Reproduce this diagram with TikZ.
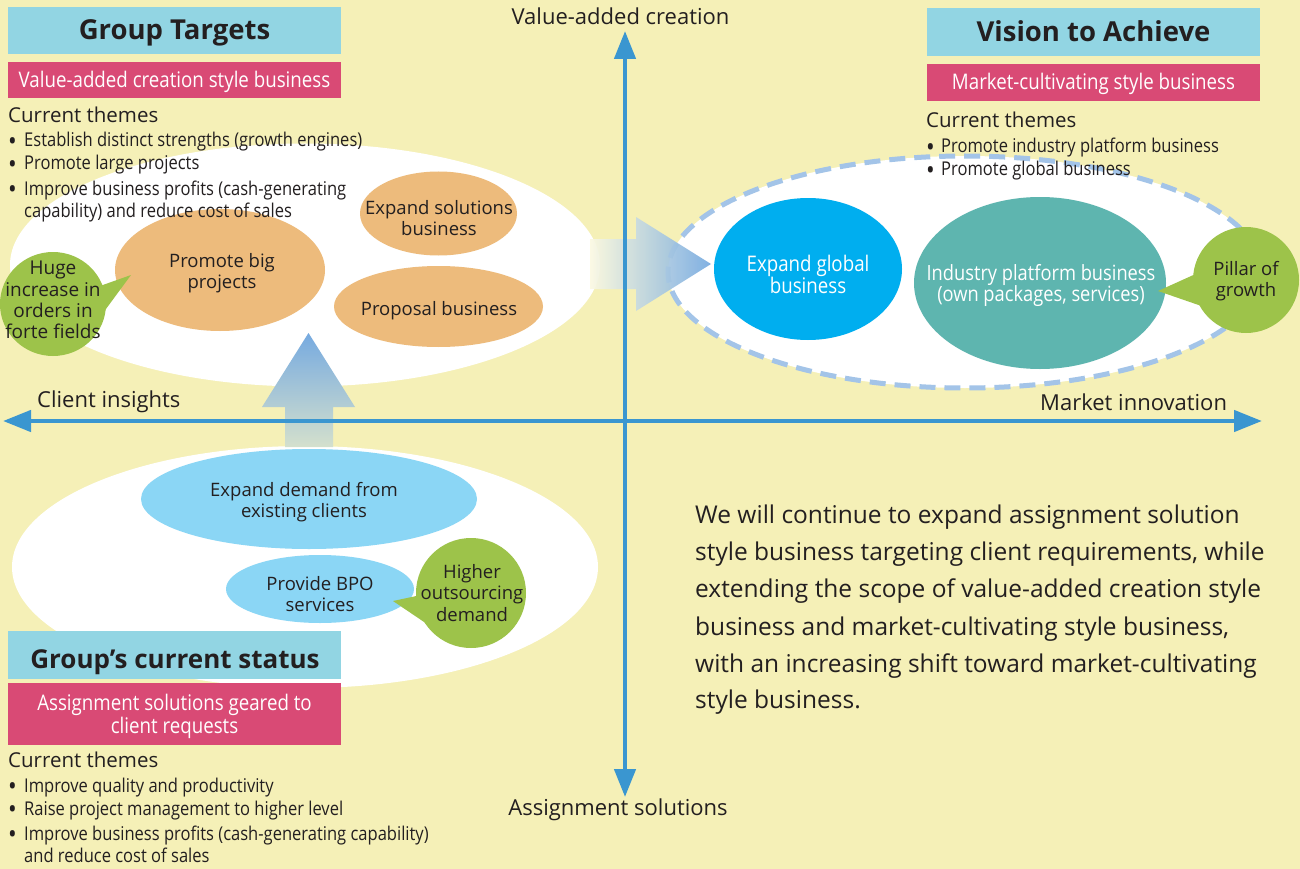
\documentclass[tikz,border=0pt]{standalone}
\usepackage{fontspec}
\usepackage{graphicx}
\setmainfont{Open Sans}
\newfontfamily\condfont{Open Sans}[FakeStretch=0.87]
\usetikzlibrary{shapes.geometric,arrows.meta}
\newcommand\myfs[2]{\fontsize{#1}{#2}\selectfont}
\newcommand\bigbul{\raisebox{-0.16em}[0pt][0pt]{\scalebox{1.4}{•}}}
\definecolor{bgy}{RGB}{245,240,183}
\definecolor{axisblue}{RGB}{58,150,208}
\definecolor{titlecyan}{RGB}{146,213,227}
\definecolor{pinkc}{RGB}{217,74,117}
\definecolor{orangeb}{RGB}{237,187,124}
\definecolor{greenb}{RGB}{157,195,74}
\definecolor{globalblue}{RGB}{0,174,239}
\definecolor{tealb}{RGB}{94,181,175}
\definecolor{lightblue}{RGB}{139,214,245}
\definecolor{dashblue}{RGB}{163,196,232}
\definecolor{arrowblue}{RGB}{118,170,224}
\definecolor{arrowfade}{RGB}{212,224,205}
\definecolor{txt}{RGB}{35,31,32}
\tikzset{
  boxc/.style={fill=titlecyan, minimum width=333pt, inner sep=0, draw=none},
  boxp/.style={fill=pinkc, minimum width=333pt, inner sep=0, draw=none},
  titletext/.style={anchor=base, inner sep=0, font=\bfseries\myfs{27.5}{30}},
  pinktext/.style={anchor=base, inner sep=0, text=white, font=\condfont\myfs{21.5}{24}},
  themehead/.style={anchor=base west, inner sep=0, font=\myfs{20.5}{22}},
  bul/.style={anchor=base west, inner sep=0, font=\condfont\myfs{19}{21}},
  blob/.style={ellipse, inner sep=0, draw=none},
  blobtext/.style={inner sep=0, align=center, font=\myfs{18.5}{21.5}},
  axlabel/.style={inner sep=0, font=\myfs{22}{24}},
  axis/.style={line width=4.5pt, draw=axisblue, arrows={Triangle[length=28pt,width=21pt]-Triangle[length=28pt,width=21pt]}},
  para/.style={anchor=base west, inner sep=0, font=\myfs{24.5}{26}}
}
\begin{document}
\begin{tikzpicture}[x=1pt,y=-1pt, every node/.style={text=txt}]
\fill[bgy] (0,0) rectangle (1300,869);
\useasboundingbox (0,0) rectangle (1300,869);

% white background ellipses
\node[blob, fill=white, minimum width=590pt, minimum height=243pt] (topfield) at (305,265) {};
\node[blob, fill=white, minimum width=586pt, minimum height=242pt] (botfield) at (305,567) {};
\node[blob, fill=white, draw=dashblue, line width=5pt, dash pattern=on 16pt off 9pt, minimum width=594pt, minimum height=232pt] (visionfield) at (965,272) {};

% shaded arrows
\shade[top color=arrowblue, bottom color=arrowfade] (285,447) -- (285,407) -- (262,407) -- (308.5,333) -- (355,407) -- (333,407) -- (333,447) -- cycle;
\shade[left color=white!60!bgy, right color=arrowblue, opacity=0.92] (590,239) -- (636,239) -- (636,217) -- (711,264) -- (636,311) -- (636,289) -- (590,289) -- cycle;

% axes
\coordinate (vtop) at (625,31);
\coordinate (vbot) at (625,797);
\coordinate (hleft) at (3,421);
\coordinate (hright) at (1262,421);
\draw[axis] (vbot) -- (vtop);
\draw[axis] (hleft) -- (hright);
\node[axlabel, anchor=base] (lvac) at (620.5,25) {Value-added creation};
\node[axlabel, anchor=base] (las) at (618,815) {Assignment solutions};
\node[axlabel, anchor=base west] (lci) at (37,407) {Client insights};
\node[axlabel, anchor=base west] (lmi) at (1040,410) {Market innovation};

% top-left bubbles
\node[blob, fill=orangeb, minimum width=210pt, minimum height=122pt] (bigproj) at (220,270) {};
\node[blobtext] (bigprojt) at (222,273) {Promote big\\projects};
\node[blob, fill=orangeb, minimum width=157pt, minimum height=84pt] (expsol) at (438.5,213.5) {};
\node[blobtext] (expsolt) at (439,218) {Expand solutions\\business};
\node[blob, fill=orangeb, minimum width=209pt, minimum height=81pt] (proposal) at (438.5,306.5) {};
\node[blobtext, anchor=base] (proposalt) at (439,315) {Proposal business};
\fill[greenb] (131,275) -- (100,286) -- (103,313) -- cycle;
\node[blob, fill=greenb, minimum width=106pt, minimum height=104pt] (huge) at (53,304) {};
\node[blobtext, font=\myfs{19}{21.3}] (huget) at (53,300) {Huge\\increase in\\orders in\\forte fields};

% top-right bubbles
\node[blob, fill=globalblue, minimum width=188pt, minimum height=142pt] (global) at (808,269) {};
\node[blobtext, text=white, font=\condfont\myfs{21.5}{22}] (globalt) at (808,274) {Expand global\\business};
\node[blob, fill=tealb, minimum width=252pt, minimum height=172pt] (platform) at (1040,283) {};
\node[blobtext, text=white, font=\condfont\myfs{21}{21}] (platformt) at (1041,285.5) {Industry platform business\\(own packages, services)};
\fill[greenb] (1158,291) -- (1200,272) -- (1213,310) -- cycle;
\node[blob, fill=greenb, minimum width=106pt, minimum height=106pt] (pillar) at (1246,280) {};
\node[blobtext] (pillart) at (1246,281) {Pillar of\\growth};

% bottom bubbles
\node[blob, fill=lightblue, minimum width=336pt, minimum height=100pt] (expdem) at (309,499) {};
\node[blobtext] (expdemt) at (304,502) {Expand demand from\\existing clients};
\node[blob, fill=lightblue, minimum width=188pt, minimum height=68pt] (bpo) at (320,589) {};
\node[blobtext] (bpot) at (320,594) {Provide BPO\\services};
\fill[greenb] (393,601) -- (421,595) -- (430,626) -- cycle;
\node[blob, fill=greenb, minimum width=110pt, minimum height=110pt] (outs) at (471,593) {};
\node[blobtext] (outst) at (472,593) {Higher\\outsourcing\\demand};

% top-left header
\node[boxc, minimum height=47pt] (gtbox) at (174.5,30.5) {};
\node[titletext] (gtt) at (174.5,40) {Group Targets};
\node[boxp, minimum height=36pt] (gtp) at (174.5,80) {};
\node[pinktext] (gtpt) at (174.5,88) {Value-added creation style business};
\node[themehead] (th1) at (8,123) {Current themes};
\node[bul] (t1a) at (8,147) {\makebox[16pt][l]{\bigbul}Establish distinct strengths (growth engines)};
\node[bul] (t1b) at (8,170) {\makebox[16pt][l]{\bigbul}Promote large projects};
\node[bul] (t1c) at (8,195) {\makebox[16pt][l]{\bigbul}Improve business profits (cash-generating};
\node[bul] (t1d) at (24,218) {capability) and reduce cost of sales};

% top-right header
\node[boxc, minimum height=48pt] (vabox) at (1093.5,32) {};
\node[titletext] (vat) at (1093.5,42) {Vision to Achieve};
\node[boxp, minimum height=37pt] (vap) at (1093.5,82.5) {};
\node[pinktext] (vapt) at (1093.5,90) {Market-cultivating style business};
\node[themehead] (th2) at (926,128) {Current themes};
\node[bul] (t2a) at (926,153) {\makebox[15pt][l]{\bigbul}Promote industry platform business};
\node[bul] (t2b) at (926,176) {\makebox[15pt][l]{\bigbul}Promote global business};

% bottom-left header
\node[boxc, minimum height=48pt] (csbox) at (174.5,655) {};
\node[titletext, font=\bfseries\myfs{26}{30}] (cst) at (175,668) {Group’s current status};
\node[boxp, minimum height=62pt] (csp) at (174.5,714) {};
\node[pinktext] (cspt1) at (174.5,710) {Assignment solutions geared to};
\node[pinktext] (cspt2) at (174.5,733) {client requests};
\node[themehead] (th3) at (8,767) {Current themes};
\node[bul] (t3a) at (8,792) {\makebox[16pt][l]{\bigbul}Improve quality and productivity};
\node[bul] (t3b) at (8,815) {\makebox[16pt][l]{\bigbul}Raise project management to higher level};
\node[bul] (t3c) at (8,840) {\makebox[16pt][l]{\bigbul}Improve business profits (cash-generating capability)};
\node[bul] (t3d) at (24,862) {and reduce cost of sales};

% paragraph
\node[para] (p1) at (695,523) {We will continue to expand assignment solution};
\node[para] (p2) at (695,560) {style business targeting client requirements, while};
\node[para] (p3) at (695,597) {extending the scope of value-added creation style};
\node[para] (p4) at (695,635) {business and market-cultivating style business,};
\node[para] (p5) at (695,672) {with an increasing shift toward market-cultivating};
\node[para] (p6) at (695,708) {style business.};
\end{tikzpicture}
\end{document}
